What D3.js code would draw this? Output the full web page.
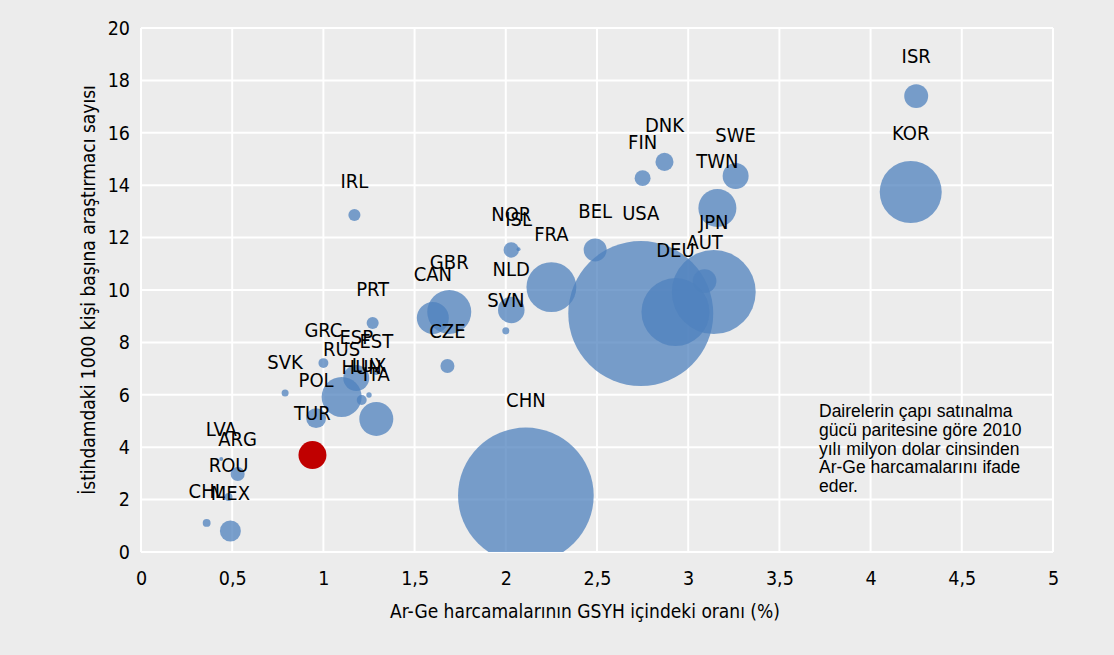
<!DOCTYPE html>
<html>
<head>
<meta charset="utf-8">
<script src="https://cdn.jsdelivr.net/npm/d3@7"></script>
<style>
  body { margin: 0; background: #ececec; }
  svg { display: block; }
  .lbl { font-family: "DejaVu Sans Condensed", "DejaVu Sans", sans-serif; font-size: 20px; fill: #000; }
  .tick text { font-family: "DejaVu Sans Condensed", "DejaVu Sans", sans-serif; font-size: 19.5px; fill: #000; }
  .axis-title { font-family: "DejaVu Sans Condensed", "DejaVu Sans", sans-serif; font-size: 19px; fill: #000; }
  .note { font-family: "Liberation Sans", Arial, sans-serif; font-size: 17.5px; fill: #000; }
</style>
</head>
<body>
<div id="chart"></div>
<script>
var svgWidth = 1114;
var svgHeight = 655;

var margin = { top: 28, right: 61, bottom: 103, left: 141 };
var width = svgWidth - margin.left - margin.right;
var height = svgHeight - margin.top - margin.bottom;

// data
var countries = ["ISR", "KOR", "SWE", "TWN", "DNK", "FIN", "BEL", "USA", "JPN", "AUT",
  "DEU", "FRA", "NOR", "ISL", "NLD", "SVN", "CHN", "CAN", "GBR", "CZE",
  "IRL", "PRT", "GRC", "ESP", "EST", "RUS", "HUN", "LUX", "ITA", "POL",
  "SVK", "TUR", "LVA", "ARG", "ROU", "CHL", "MEX"];
// R&D expenditure as % of GDP
var rdShare = [4.25, 4.22, 3.26, 3.16, 2.87, 2.75, 2.49, 2.74, 3.14, 3.09,
  2.93, 2.25, 2.03, 2.07, 2.03, 2.00, 2.11, 1.60, 1.69, 1.68,
  1.17, 1.27, 1.00, 1.18, 1.29, 1.10, 1.21, 1.25, 1.29, 0.96,
  0.79, 0.94, 0.44, 0.53, 0.48, 0.36, 0.49];
// researchers per 1000 employed
var researchers = [17.4, 13.74, 14.35, 13.13, 14.89, 14.27, 11.53, 9.10, 9.92, 10.34,
  9.16, 10.11, 11.53, 11.56, 9.24, 8.44, 2.16, 8.93, 9.16, 7.10,
  12.86, 8.74, 7.21, 6.64, 6.87, 5.92, 5.80, 5.99, 5.08, 5.11,
  6.07, 3.70, 3.55, 2.98, 2.10, 1.11, 0.80];
// R&D spending, billion USD PPP (bubble area)
var rdSpend = [11.1, 74.2, 13.0, 27.9, 6.3, 4.9, 10.2, 405.6, 136, 10.7,
  89, 48, 4.6, 0.3, 13.6, 0.95, 355, 19.8, 37.3, 3.8,
  2.8, 2.8, 1.9, 13.0, 0.7, 30.9, 1.9, 0.56, 22.3, 7.7,
  0.95, 15.1, 0.3, 3.8, 1.2, 1.2, 8.5];

var xTicks = [0, 0.5, 1, 1.5, 2, 2.5, 3, 3.5, 4, 4.5, 5];
var yTicks = [0, 2, 4, 6, 8, 10, 12, 14, 16, 18, 20];
var noteLines = ["Dairelerin çapı satınalma", "gücü paritesine göre 2010",
  "yılı milyon dolar cinsinden", "Ar-Ge harcamalarını ifade", "eder."];

var data = countries.map(function(c, i) {
  return { name: c, x: rdShare[i], y: researchers[i], v: rdSpend[i] };
});

var svg = d3.select("#chart")
  .append("svg")
  .attr("width", svgWidth)
  .attr("height", svgHeight);

svg.append("rect")
  .attr("width", svgWidth)
  .attr("height", svgHeight)
  .attr("fill", "#ececec");

var chartGroup = svg.append("g")
  .attr("transform", `translate(${margin.left}, ${margin.top})`);

var xScale = d3.scaleLinear().domain([0, 5]).range([0, width]);
var yScale = d3.scaleLinear().domain([0, 20]).range([height, 0]);
var rScale = d3.scaleSqrt().domain([0, 405.6]).range([0, 72.5]);

// grid
chartGroup.selectAll(".vgrid")
  .data(xTicks)
  .enter()
  .append("line")
  .attr("x1", d => xScale(d))
  .attr("x2", d => xScale(d))
  .attr("y1", 0)
  .attr("y2", height)
  .attr("stroke", "#fff")
  .attr("stroke-width", 2);

chartGroup.selectAll(".hgrid")
  .data(yTicks)
  .enter()
  .append("line")
  .attr("x1", 0)
  .attr("x2", width)
  .attr("y1", d => yScale(d))
  .attr("y2", d => yScale(d))
  .attr("stroke", "#fff")
  .attr("stroke-width", 2);

// axes (labels only)
var xAxis = chartGroup.append("g")
  .attr("transform", `translate(0, ${height})`)
  .call(d3.axisBottom(xScale).tickValues(xTicks).tickSize(0).tickPadding(19)
    .tickFormat(d => String(d).replace(".", ",")));
xAxis.select(".domain").remove();

var yAxis = chartGroup.append("g")
  .call(d3.axisLeft(yScale).tickValues(yTicks).tickSize(0).tickPadding(11));
yAxis.select(".domain").remove();

// bubbles
chartGroup.append("clipPath")
  .attr("id", "plot-clip")
  .append("rect")
  .attr("width", width)
  .attr("height", height);

chartGroup.append("g")
  .attr("clip-path", "url(#plot-clip)")
  .selectAll("circle")
  .data(data)
  .enter()
  .append("circle")
  .attr("cx", d => xScale(d.x))
  .attr("cy", d => yScale(d.y))
  .attr("r", d => rScale(d.v))
  .attr("fill", d => d.name === "TUR" ? "#C00000" : "#4F81BD")
  .attr("fill-opacity", d => d.name === "TUR" ? 1 : 0.75);

// labels above each bubble
chartGroup.selectAll(".lbl")
  .data(data)
  .enter()
  .append("text")
  .attr("class", "lbl")
  .attr("x", d => xScale(d.x))
  .attr("y", d => yScale(d.y) - rScale(d.v) - 28)
  .attr("dy", "0.36em")
  .attr("text-anchor", "middle")
  .text(d => d.name);

// axis titles
svg.append("text")
  .attr("class", "axis-title")
  .attr("x", 585)
  .attr("y", 611)
  .attr("dy", "0.36em")
  .attr("text-anchor", "middle")
  .text("Ar-Ge harcamalarının GSYH içindeki oranı (%)");

svg.append("text")
  .attr("class", "axis-title")
  .attr("transform", `translate(88, ${margin.top + height / 2}) rotate(-90)`)
  .attr("dy", "0.36em")
  .attr("text-anchor", "middle")
  .text("İstihdamdaki 1000 kişi başına araştırmacı sayısı");

// note
svg.append("text")
  .attr("class", "note")
  .attr("x", 819)
  .attr("y", 417)
  .selectAll("tspan")
  .data(noteLines)
  .enter()
  .append("tspan")
  .attr("x", 819)
  .attr("dy", (d, i) => i === 0 ? 0 : 18.8)
  .text(d => d);
</script>
</body>
</html>
